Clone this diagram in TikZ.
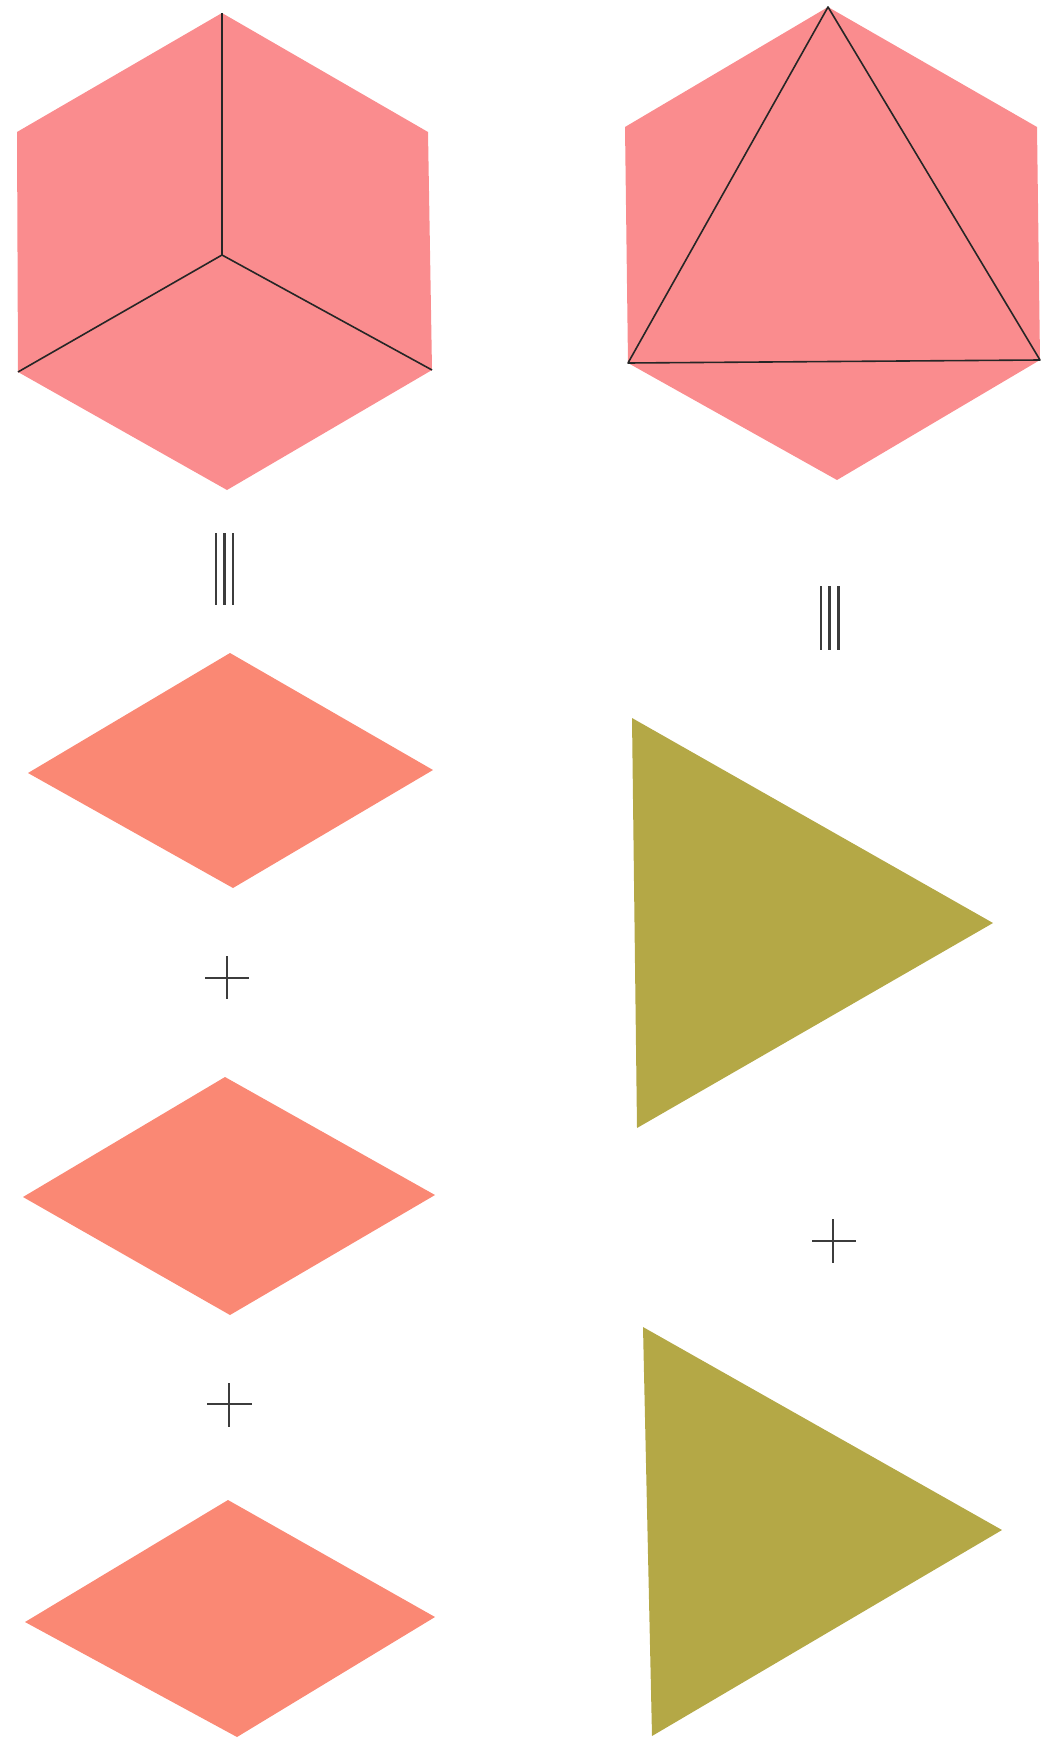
\documentclass[tikz,border=0pt]{standalone}
\definecolor{hexpink}{RGB}{250,140,142}
\definecolor{salmon}{RGB}{250,136,116}
\definecolor{olive}{RGB}{180,168,70}
\definecolor{signgray}{RGB}{60,60,60}
\tikzset{
  hexface/.style={fill=hexpink, draw=none},
  rhomb/.style={fill=salmon, draw=none},
  tri/.style={fill=olive, draw=none},
  edge/.style={draw=black!85, line width=1.6pt, line join=round},
  sign/.style={draw=signgray, line width=2.8pt},
}
\begin{document}
\begin{tikzpicture}[x=1pt,y=-1pt]
\useasboundingbox (0,0) rectangle (1042,1739);
% left hexagon (cube)
\coordinate (lt) at (222,13);
\coordinate (lul) at (17,132);
\coordinate (lll) at (18,372);
\coordinate (lb) at (227,490);
\coordinate (llr) at (432,370);
\coordinate (lur) at (428,132);
\coordinate (lc) at (222,255);
\fill[hexface] (lt) -- (lul) -- (lll) -- (lb) -- (llr) -- (lur) -- cycle;
\draw[edge] (lt) -- (lc);
\draw[edge] (lll) -- (lc) -- (llr);
% right hexagon with triangle
\coordinate (rt) at (828,7);
\coordinate (rul) at (625,127);
\coordinate (rll) at (628,363);
\coordinate (rb) at (837,480);
\coordinate (rlr) at (1040,360);
\coordinate (rur) at (1037,127);
\fill[hexface] (rt) -- (rul) -- (rll) -- (rb) -- (rlr) -- (rur) -- cycle;
\draw[edge] (rt) -- (rll) -- (rlr) -- cycle;
% equals (triple bars)
\foreach \x in {216,224.5,233} \draw[sign] (\x,533) -- (\x,605);
\foreach \x in {821,829.5,838.5} \draw[sign] (\x,586) -- (\x,650);
% rhombi
\fill[rhomb] (28,773) -- (230,653) -- (433,770) -- (233,888) -- cycle;
\fill[rhomb] (23,1197) -- (225,1077) -- (435,1195) -- (230,1315) -- cycle;
\fill[rhomb] (25,1622) -- (228,1500) -- (435,1617) -- (237,1737) -- cycle;
% plus signs
\draw[sign] (205,978) -- (249,978) (227,956) -- (227,999);
\draw[sign] (207,1404) -- (252,1404) (229,1383) -- (229,1427);
\draw[sign] (812,1241) -- (856,1241) (833,1219) -- (833,1263);
% triangles
\fill[tri] (632,718) -- (993,923) -- (637,1128) -- cycle;
\fill[tri] (643,1327) -- (1002,1530) -- (652,1736) -- cycle;
\end{tikzpicture}
\end{document}
